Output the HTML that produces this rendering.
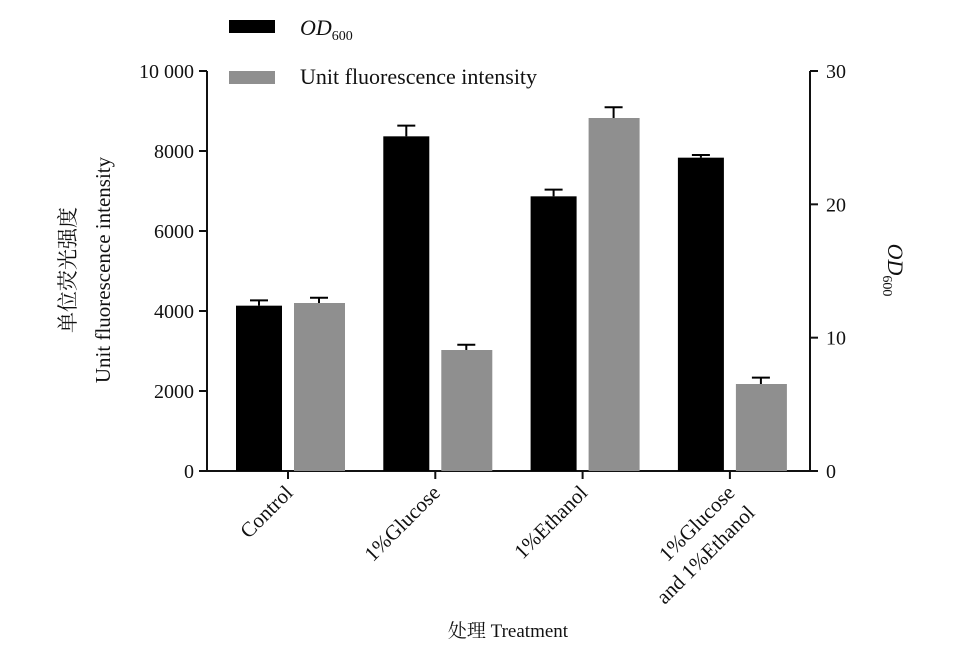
<!DOCTYPE html>
<html><head><meta charset="utf-8"><style>
body{margin:0;background:#fff}
svg text{font-family:"Liberation Serif","Noto Serif CJK SC",serif;fill:#111}
</style></head><body>
<svg width="965" height="664" id="c">
<g id="g"></g>
</svg>
<script>
const categories=["Control","1%Glucose","1%Ethanol","1%Glucose|and 1%Ethanol"];
const odValues=[12.4,25.1,20.6,23.5];
const odErrors=[0.4,0.8,0.5,0.2];
const fluoValues=[4200,3025,8825,2175];
const fluoErrors=[130,130,270,160];
const leftTicks=[0,2000,4000,6000,8000,10000];
const leftTickLabels=["0","2000","4000","6000","8000","10 000"];
const rightTicks=[0,10,20,30];
const NS="http://www.w3.org/2000/svg";
const g=document.getElementById('g');
const x0=207,x1=810,yb=471,yt=71;
const yL=v=>yb-(v/10000)*(yb-yt);
const yR=v=>yb-(v/30)*(yb-yt);
const xC=i=>288+i*147.3;
function el(t,a,txt){const e=document.createElementNS(NS,t);for(const k in a)e.setAttribute(k,a[k]);if(txt!=null)e.textContent=txt;g.appendChild(e);return e;}
// axes
let e=el('line',{x1:x0,y1:yt,x2:x0,y2:yb+1,stroke:'#111','stroke-width':2});

e=el('line',{x1:x1,y1:yt,x2:x1,y2:yb+1,stroke:'#111','stroke-width':2});

e=el('line',{x1:x0,y1:yb,x2:x1,y2:yb,stroke:'#111','stroke-width':2});

leftTicks.forEach((v,i)=>{
 el('line',{x1:x0-8,y1:yL(v),x2:x0,y2:yL(v),stroke:'#111','stroke-width':2});
 e=el('text',{x:x0-13,y:yL(v)+7,'text-anchor':'end','font-size':20},leftTickLabels[i]);
 
});
rightTicks.forEach(v=>{
 el('line',{x1:x1,y1:yR(v),x2:x1+8,y2:yR(v),stroke:'#111','stroke-width':2});
 e=el('text',{x:x1+16,y:yR(v)+7,'font-size':20},String(v));
 
});
categories.forEach((c,i)=>{
 const xc=xC(i);
 el('line',{x1:xc,y1:yb,x2:xc,y2:yb+8,stroke:'#111','stroke-width':2});
 // OD bar
 let t=yR(odValues[i]);
 e=el('rect',{x:xc-52,y:t,width:46,height:yb-t,fill:'#000'});
 
 let te=yR(odValues[i]+odErrors[i]);
 el('line',{x1:xc-29,y1:te,x2:xc-29,y2:t,stroke:'#000','stroke-width':2});
 el('line',{x1:xc-38,y1:te,x2:xc-20,y2:te,stroke:'#000','stroke-width':2});
 // fluo bar
 t=yL(fluoValues[i]);
 e=el('rect',{x:xc+6,y:t,width:51,height:yb-t,fill:'#8f8f8f'});
 
 te=yL(fluoValues[i]+fluoErrors[i]);
 el('line',{x1:xc+31,y1:te,x2:xc+31,y2:t,stroke:'#000','stroke-width':2});
 el('line',{x1:xc+22,y1:te,x2:xc+40,y2:te,stroke:'#000','stroke-width':2});
 // label
 const parts=c.split('|');
 parts.forEach((p,j)=>{
  e=el('text',{x:0,y:0,'text-anchor':'end','font-size':21,transform:`translate(${xC(i)+6+j*20},${494+j*20}) rotate(-45)`},p);
  
 });
});
</script>
<g></g>
<svg width="965" height="664" style="position:absolute;left:0;top:0">
<rect x="229" y="20" width="46" height="13" fill="#000"/>
<text x="300" y="35" font-size="22" font-style="italic">OD<tspan font-size="14" font-style="normal" dy="5">600</tspan></text>
<rect x="229" y="71" width="46" height="13" fill="#8f8f8f"/>
<text x="300" y="84" font-size="22">Unit fluorescence intensity</text>
<text transform="translate(75,270) rotate(-90)" text-anchor="middle" font-size="21">单位荧光强度</text>
<text transform="translate(110,270) rotate(-90)" text-anchor="middle" font-size="21">Unit fluorescence intensity</text>
<text transform="translate(888,270) rotate(90)" text-anchor="middle" font-size="22" font-style="italic">OD<tspan font-size="14" font-style="normal" dy="5">600</tspan></text>
<text x="508" y="637" text-anchor="middle" font-size="19">处理 Treatment</text>
</svg>
</body></html>
